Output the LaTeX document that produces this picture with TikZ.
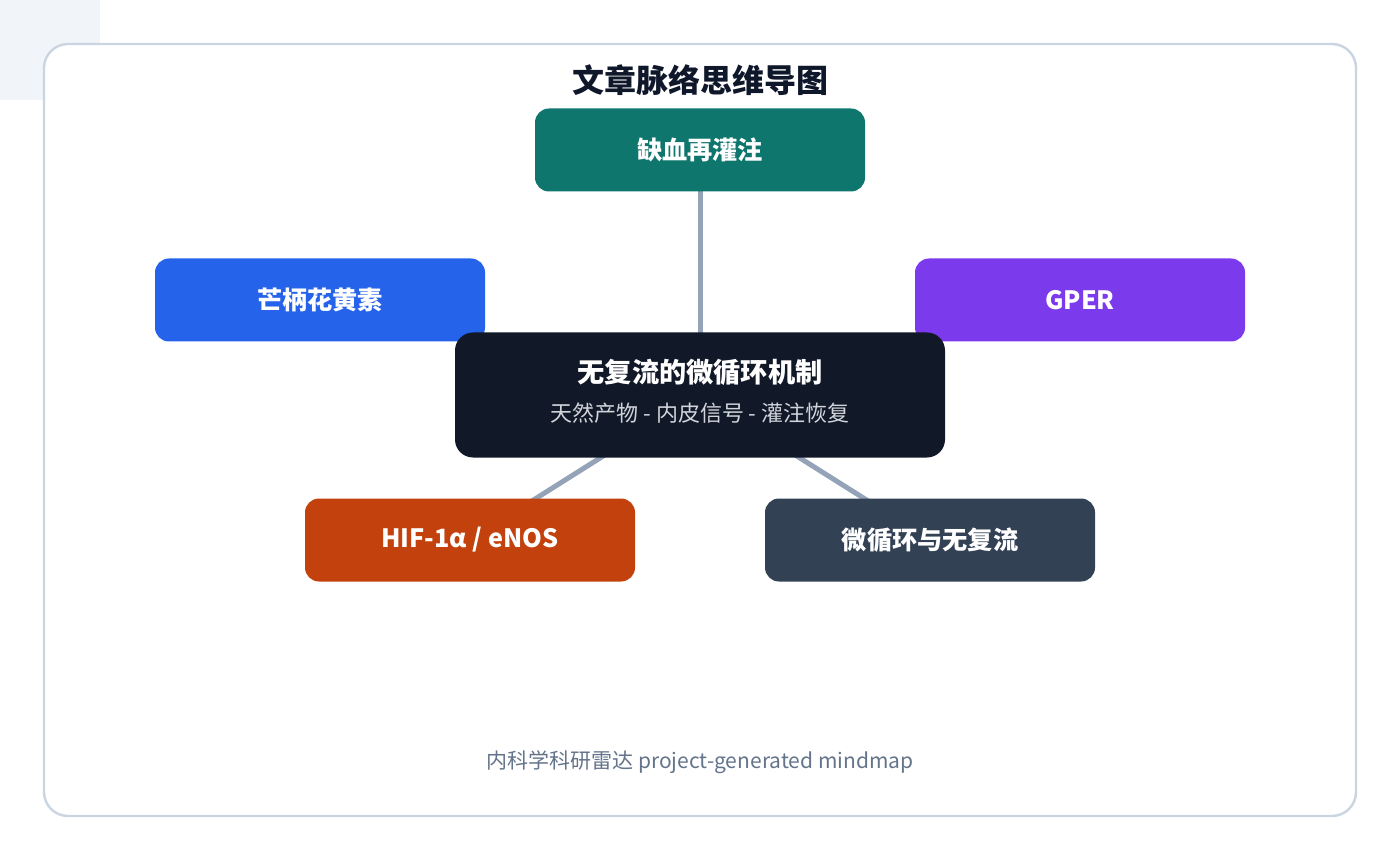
\documentclass[tikz,border=0pt]{standalone}
\usepackage{fontspec}
\usetikzlibrary{backgrounds}
\setmainfont{Noto Sans CJK SC}
\begin{document}
\begin{tikzpicture}[x=0.5pt,y=-0.5pt,
  box/.style={rounded corners=7pt,minimum width=165pt,minimum height=41.5pt,inner sep=0pt,text=white,font=\bfseries\fontsize{12.6}{14}\selectfont},
  link/.style={draw=lk,line width=2.5pt}]
\definecolor{lk}{HTML}{94A3B8}
\definecolor{fr}{HTML}{CBD5E1}
\useasboundingbox (0,0) rectangle (1400,860);
\node[box,fill={rgb,255:red,15;green,118;blue,110}] (top) at (700,150) {缺血再灌注};
\node[box,fill={rgb,255:red,37;green,99;blue,235}] (left) at (320,300) {芒柄花黄素};
\node[box,fill={rgb,255:red,124;green,58;blue,237}] (right) at (1080,300) {GPER};
\node[box,fill={rgb,255:red,194;green,65;blue,12}] (bl) at (470,540) {HIF-1α / eNOS};
\node[box,fill={rgb,255:red,51;green,65;blue,85}] (br) at (930,540) {微循环与无复流};
\node[box,fill={rgb,255:red,17;green,24;blue,39},minimum width=245pt,minimum height=62.5pt,rounded corners=9pt] (center) at (700,395) {};
\node[font=\bfseries\fontsize{13.6}{15}\selectfont,text=white] (ct) at (700,372) {无复流的微循环机制};
\node[font=\fontsize{11}{13}\selectfont,text={rgb,255:red,209;green,213;blue,219}] (cs) at (700,413) {天然产物 - 内皮信号 - 灌注恢复};
\node[font=\bfseries\fontsize{16}{18}\selectfont,text={rgb,255:red,15;green,23;blue,42}] (title) at (700,80) {文章脉络思维导图};
\node[font=\fontsize{10.5}{12}\selectfont,text={rgb,255:red,100;green,116;blue,139}] (foot) at (700,762) {内科学科研雷达 project-generated mindmap};
\begin{scope}[on background layer]
\fill[white] (0,0) rectangle (1400,860);
\fill[fill={rgb,255:red,241;green,245;blue,249}] (0,0) rectangle (100,100);
\draw[fr,line width=1.2pt,rounded corners=12pt,fill=white] (44,44) rectangle (1356,816);
\foreach \n in {top,left,right,bl,br} \draw[link] (center.center) -- (\n.center);
\end{scope}
\end{tikzpicture}
\end{document}
